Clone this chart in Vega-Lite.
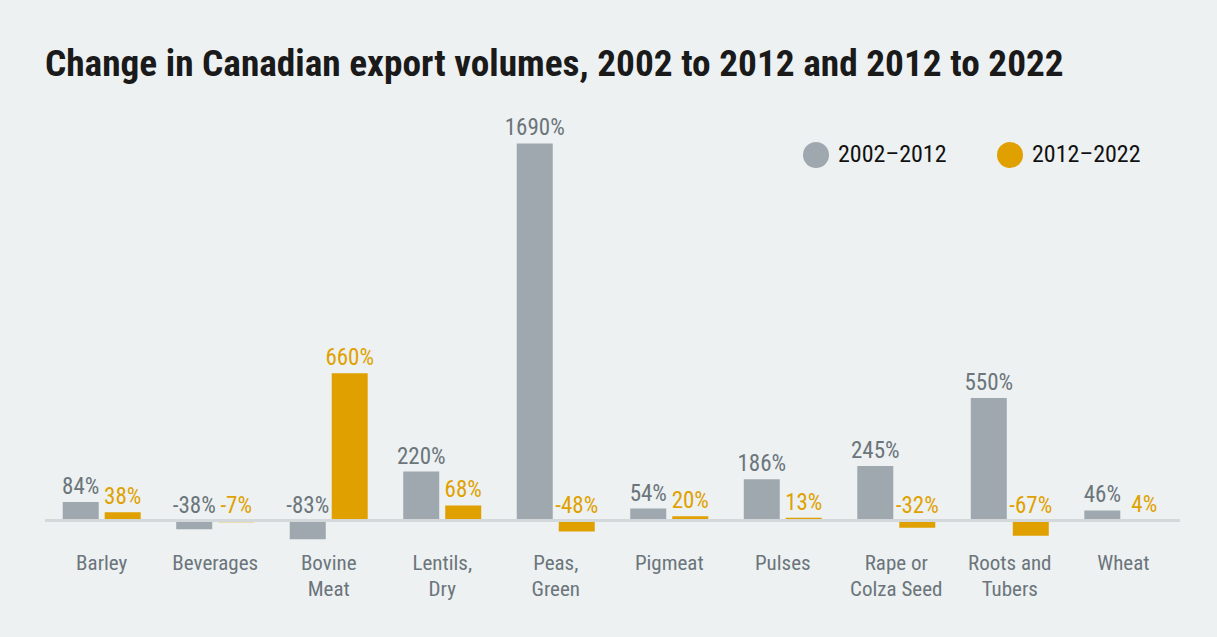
{
  "$schema": "https://vega.github.io/schema/vega-lite/v6.json",
  "width": 1135,
  "height": 413,
  "autosize": {"type": "none"},
  "padding": {"left": 45, "top": 130, "right": 37, "bottom": 94},
  "background": "#edf1f2",
  "title": {
    "text": "Change in Canadian export volumes, 2002 to 2012 and 2012 to 2022",
    "anchor": "start",
    "frame": "group",
    "baseline": "alphabetic",
    "offset": 4,
    "font": "Roboto Condensed, DejaVu Sans Condensed, Roboto",
    "fontSize": 37.3,
    "fontWeight": "bold",
    "color": "#1a1a1a"
  },
  "config": {
    "locale": {"number": {"decimal": ".", "thousands": ",", "grouping": [3], "currency": ["$", ""], "minus": "-"}},
    "view": {"stroke": null},
    "font": "Roboto Condensed, DejaVu Sans Condensed, Roboto"
  },
  "data": {
    "values": [
      {"category": "Barley", "period": "2002–2012", "value": 0.84},
      {"category": "Barley", "period": "2012–2022", "value": 0.38},
      {"category": "Beverages", "period": "2002–2012", "value": -0.38},
      {"category": "Beverages", "period": "2012–2022", "value": -0.07},
      {"category": "Bovine Meat", "period": "2002–2012", "value": -0.83},
      {"category": "Bovine Meat", "period": "2012–2022", "value": 6.60},
      {"category": "Lentils, Dry", "period": "2002–2012", "value": 2.20},
      {"category": "Lentils, Dry", "period": "2012–2022", "value": 0.68},
      {"category": "Peas, Green", "period": "2002–2012", "value": 16.90},
      {"category": "Peas, Green", "period": "2012–2022", "value": -0.48},
      {"category": "Pigmeat", "period": "2002–2012", "value": 0.54},
      {"category": "Pigmeat", "period": "2012–2022", "value": 0.20},
      {"category": "Pulses", "period": "2002–2012", "value": 1.86},
      {"category": "Pulses", "period": "2012–2022", "value": 0.13},
      {"category": "Rape or Colza Seed", "period": "2002–2012", "value": 2.45},
      {"category": "Rape or Colza Seed", "period": "2012–2022", "value": -0.32},
      {"category": "Roots and Tubers", "period": "2002–2012", "value": 5.50},
      {"category": "Roots and Tubers", "period": "2012–2022", "value": -0.67},
      {"category": "Wheat", "period": "2002–2012", "value": 0.46},
      {"category": "Wheat", "period": "2012–2022", "value": 0.04}
    ]
  },
  "encoding": {
    "x": {
      "field": "category",
      "type": "nominal",
      "sort": null,
      "scale": {"paddingInner": 0.313, "paddingOuter": 0.156},
      "axis": {
        "title": null,
        "domain": false,
        "ticks": false,
        "labelAngle": 0,
        "labelPadding": 9,
        "labelBaseline": "top",
        "labelFontSize": 21,
        "labelLineHeight": 26,
        "labelColor": "#6b757b",
        "labelFont": "Roboto Condensed, DejaVu Sans Condensed, Roboto",
        "labelExpr": "datum.label == 'Bovine Meat' ? ['Bovine', 'Meat'] : datum.label == 'Lentils, Dry' ? ['Lentils,', 'Dry'] : datum.label == 'Peas, Green' ? ['Peas,', 'Green'] : datum.label == 'Rape or Colza Seed' ? ['Rape or', 'Colza Seed'] : datum.label == 'Roots and Tubers' ? ['Roots and', 'Tubers'] : datum.label"
      }
    },
    "xOffset": {
      "field": "period",
      "type": "nominal",
      "scale": {"paddingInner": 0.143, "paddingOuter": 0}
    }
  },
  "layer": [
    {
      "mark": {"type": "bar"},
      "encoding": {
        "y": {
          "field": "value",
          "type": "quantitative",
          "scale": {"domain": [-1, 17.5], "nice": false, "zero": false},
          "axis": null
        },
        "color": {
          "field": "period",
          "type": "nominal",
          "scale": {"domain": ["2002–2012", "2012–2022"], "range": ["#9ea8ae", "#e0a100"]},
          "legend": {
            "title": null,
            "orient": "none",
            "legendX": 758,
            "legendY": 12,
            "direction": "horizontal",
            "symbolType": "circle",
            "symbolSize": 676,
            "symbolStrokeWidth": 0,
            "labelFontSize": 24,
            "labelColor": "#111111",
            "labelFont": "Roboto Condensed, DejaVu Sans Condensed, Roboto",
            "labelOffset": 9,
            "columnPadding": 50
          }
        }
      }
    },
    {
      "transform": [{"filter": "datum.value >= 0"}],
      "mark": {"type": "text", "baseline": "alphabetic", "dy": -8, "fontSize": 23, "align": "center"},
      "encoding": {
        "y": {"field": "value", "type": "quantitative"},
        "text": {"field": "value", "type": "quantitative", "format": ".0%"},
        "color": {
          "field": "period",
          "type": "nominal",
          "scale": {"domain": ["2002–2012", "2012–2022"], "range": ["#6b757b", "#e0a100"]},
          "legend": null
        }
      }
    },
    {
      "transform": [{"filter": "datum.value < 0"}],
      "mark": {"type": "text", "baseline": "alphabetic", "dy": -8, "fontSize": 23, "align": "center"},
      "encoding": {
        "y": {"datum": 0, "type": "quantitative"},
        "text": {"field": "value", "type": "quantitative", "format": ".0%"},
        "color": {
          "field": "period",
          "type": "nominal",
          "scale": {"domain": ["2002–2012", "2012–2022"], "range": ["#6b757b", "#e0a100"]},
          "legend": null
        }
      }
    },
    {
      "mark": {"type": "rule", "color": "#d3d8da", "strokeWidth": 2.5},
      "encoding": {"y": {"datum": 0, "type": "quantitative"}, "x": null, "xOffset": null}
    }
  ],
  "resolve": {"scale": {"color": "independent"}}
}
